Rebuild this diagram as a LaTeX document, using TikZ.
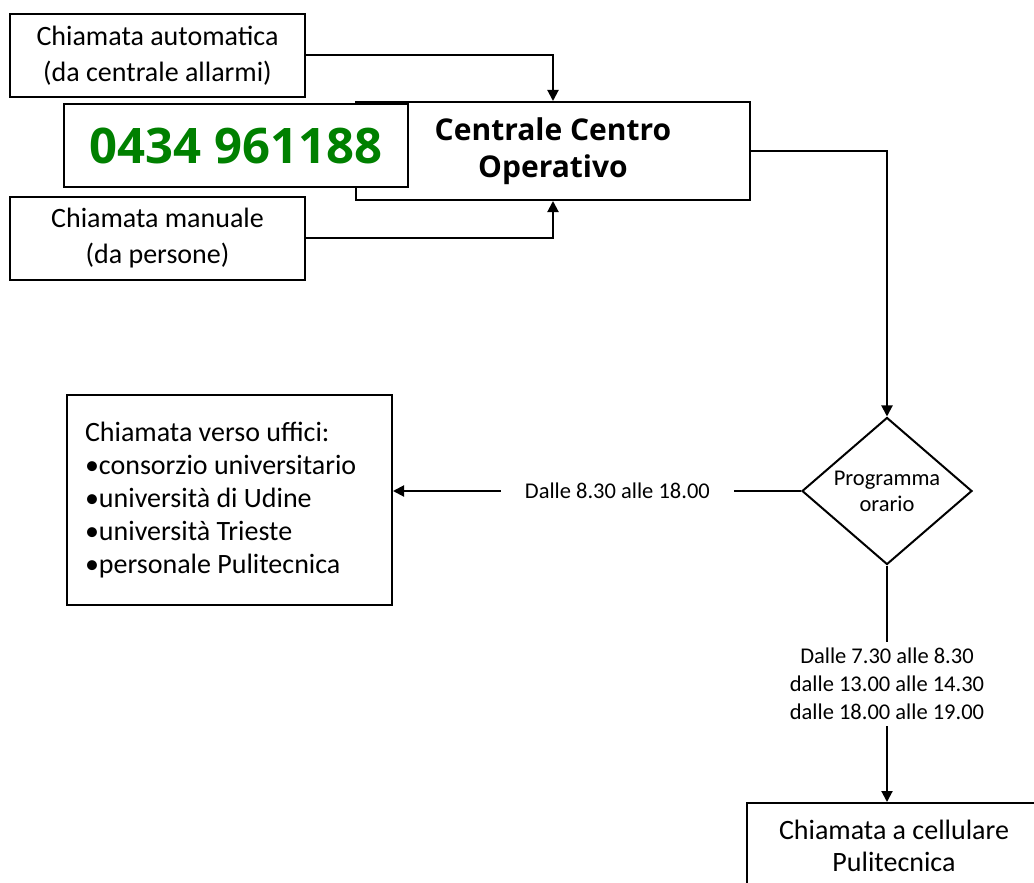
\documentclass[tikz,border=0pt]{standalone}
\usepackage{fontspec}
\setmainfont{Carlito}
\newfontfamily\headfont{Open Sans}
\usetikzlibrary{arrows.meta}
\usetikzlibrary{shapes.geometric}
\definecolor{phonegreen}{RGB}{0,128,0}

\begin{document}
\begin{tikzpicture}[x=1pt, y=-1pt,
  box/.style={draw, line width=2pt, fill=white, inner sep=0pt, align=center},
  txt/.style={font=\fontsize{28}{36}\selectfont},
  link/.style={line width=2pt, -{Triangle[length=11pt, width=11pt]}},
  lbl/.style={fill=white, inner xsep=24pt, inner ysep=6pt, align=center,
    font=\fontsize{22.5}{28}\selectfont}]
\def\sidew{295}
\def\sideh{83}

\useasboundingbox (0,0) rectangle (1034,883);
\clip (0,0) rectangle (1034,883);

\node[box, txt, minimum width=\sidew, minimum height=\sideh]
  (auto) at (157.5,55.5) {Chiamata automatica\\(da centrale allarmi)};
\node[box, txt, minimum width=\sidew, minimum height=\sideh]
  (manual) at (157.5,238) {Chiamata manuale\\(da persone)};

\node[box, minimum width=394, minimum height=98,
  font=\headfont\bfseries\fontsize{30}{37}\selectfont]
  (cco) at (553,151) {Centrale Centro\\Operativo};
\node[box, minimum width=344, minimum height=83, text=phonegreen,
  font=\headfont\bfseries\fontsize{49}{55}\selectfont]
  (phone) at (236,145.5) {0434 961188};

\node[box, diamond, minimum width=170, minimum height=138,
  font=\fontsize{22.5}{26}\selectfont]
  (prog) at (887,491) {Programma\\orario};

\node[box, align=flush left, text width=289, inner xsep=18pt,
  minimum height=210, font=\fontsize{28}{33}\selectfont]
  (uffici) at (229.5,500) {Chiamata verso uffici:\\
  \textbullet consorzio universitario\\
  \textbullet università di Udine\\
  \textbullet università Trieste\\
  \textbullet personale Pulitecnica};

\node[box, txt, minimum width=294, minimum height=86,
  font=\fontsize{28}{32}\selectfont]
  (cell) at (894,846) {Chiamata a cellulare\\Pulitecnica};

\draw[link] (auto.east) -| (cco.north);
\draw[link] (manual.east) -| (cco.south);
\draw[link] (cco.east) -| (prog.north);
\draw[link] (prog.west) -- node[lbl, pos=0.45] {Dalle 8.30 alle 18.00}
  (uffici.east |- prog.west);
\draw[link] (prog.south) -- node[lbl]
  {Dalle 7.30 alle 8.30\\dalle 13.00 alle 14.30\\dalle 18.00 alle 19.00}
  (prog.south |- cell.north);

\end{tikzpicture}
\end{document}
